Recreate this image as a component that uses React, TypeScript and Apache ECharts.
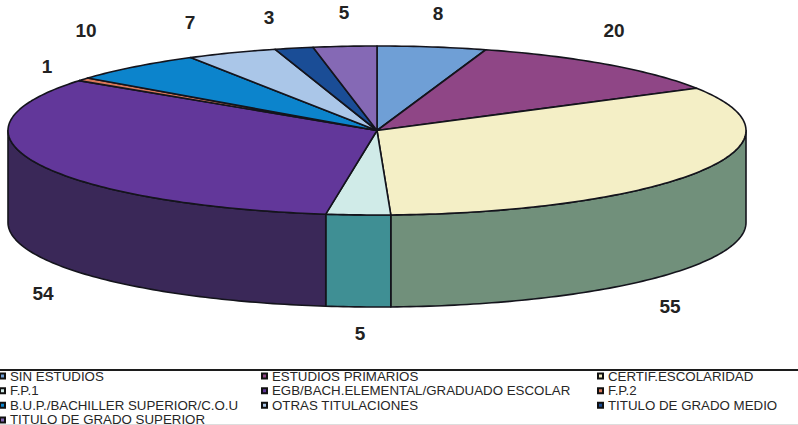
import React, { useEffect, useRef } from "react";
import * as echarts from "echarts";

const categories = [
  "SIN ESTUDIOS",
  "ESTUDIOS PRIMARIOS",
  "CERTIF.ESCOLARIDAD",
  "F.P.1",
  "EGB/BACH.ELEMENTAL/GRADUADO ESCOLAR",
  "F.P.2",
  "B.U.P./BACHILLER SUPERIOR/C.O.U",
  "OTRAS TITULACIONES",
  "TITULO DE GRADO MEDIO",
  "TITULO DE GRADO SUPERIOR",
];
const values = [8, 20, 55, 5, 54, 1, 10, 7, 3, 5];
const topColors = ["#6f9fd6", "#8f4686", "#f4efc6", "#d0ebe8", "#62379a", "#d9785a", "#0c84cc", "#aac6e8", "#1a4d96", "#8569b5"];
const wallColors = ["#4f7099", "#63305d", "#71907b", "#3f8f94", "#3a2858", "#97533e", "#085c8e", "#7589a1", "#113568", "#5c497e"];
const labelAnchors = [
  [438, 13], [614, 30], [670, 306], [360, 333], [43, 293],
  [47, 66], [86, 30], [190, 22], [269, 17], [344, 12],
];
const legendColumns = [
  { left: -1, names: [0, 3, 6, 9] },
  { left: 261, names: [1, 4, 7] },
  { left: 597, names: [2, 5, 8] },
];

const CX = 377;
const CY = 130.5;
const RX = 369;
const RY = 84.5;
const DEPTH = 92;
const PERSPECTIVE = 2;
const total = values.reduce((a, b) => a + b, 0);

const point = (deg: number, dy = 0) => {
  const warped = deg > 180 ? deg - PERSPECTIVE * Math.sin((2 * deg * Math.PI) / 180) : deg;
  const r = (warped * Math.PI) / 180;
  return [CX + RX * Math.sin(r), CY - RY * Math.cos(r) + dy];
};
const arc = (from: number, to: number, dy = 0) => {
  const pts: number[][] = [];
  const n = Math.max(2, Math.ceil(Math.abs(to - from)));
  for (let k = 0; k <= n; k++) pts.push(point(from + ((to - from) * k) / n, dy));
  return pts;
};

const makeRenderItem = (i: number) => (_params: any, api: any) => {
  const before = values.slice(0, i).reduce((a, b) => a + b, 0);
  const v = api.value(0);
  const a0 = (before / total) * 360;
  const a1 = ((before + v) / total) * 360;
  const children: any[] = [];
  const w0 = Math.max(a0, 90);
  const w1 = Math.min(a1, 270);
  const line = { stroke: "#14141c", lineWidth: 1.6, lineJoin: "round" };
  if (w1 > w0) {
    children.push({
      type: "polygon",
      shape: { points: [...arc(w0, w1), ...arc(w1, w0, DEPTH)] },
      style: { fill: wallColors[i], ...line },
    });
  }
  children.push({
    type: "polygon",
    shape: { points: [[CX, CY], ...arc(a0, a1)] },
    style: { fill: topColors[i], ...line },
  });
  children.push({
    type: "text",
    x: labelAnchors[i][0],
    y: labelAnchors[i][1],
    style: {
      text: String(v),
      fill: "#222222",
      font: 'bold 19px "Liberation Sans", Arial, sans-serif',
      align: "center",
      verticalAlign: "middle",
    },
  });
  return { type: "group", children };
};

export default function App() {
  const ref = useRef<HTMLDivElement>(null);
  useEffect(() => {
    document.body.style.margin = "0";
    const chart = echarts.init(ref.current!, undefined, { renderer: "svg" });
    chart.setOption({
      animation: false,
      backgroundColor: "#ffffff",
      legend: legendColumns.map((col) => ({
        left: col.left,
        top: 369.6,
        height: 120,
        orient: "vertical",
        padding: 0,
        itemWidth: 5,
        itemHeight: 5,
        itemGap: 1.6,
        selectedMode: false,
        icon: "rect",
        itemStyle: { borderColor: "#111111", borderWidth: 2 },
        textStyle: {
          fontFamily: '"Liberation Sans", Arial, sans-serif',
          fontSize: 13.3,
          color: "#262626",
          lineHeight: 12,
          height: 12,
        },
        data: col.names.map((k) => categories[k]),
      })),
      series: categories.map((name, i) => ({
        type: "custom",
        name,
        coordinateSystem: "none",
        silent: true,
        itemStyle: { color: topColors[i] },
        renderItem: makeRenderItem(i),
        data: [[values[i]]],
      })),
      graphic: [
        { type: "rect", shape: { x: 0, y: 369, width: 798, height: 2 }, style: { fill: "#1c1c1c" } },
        { type: "rect", shape: { x: 0, y: 424, width: 798, height: 1 }, style: { fill: "#dddddd" } },
      ],
    });
    return () => chart.dispose();
  }, []);
  return <div ref={ref} style={{ width: 798, height: 425 }} />;
}
